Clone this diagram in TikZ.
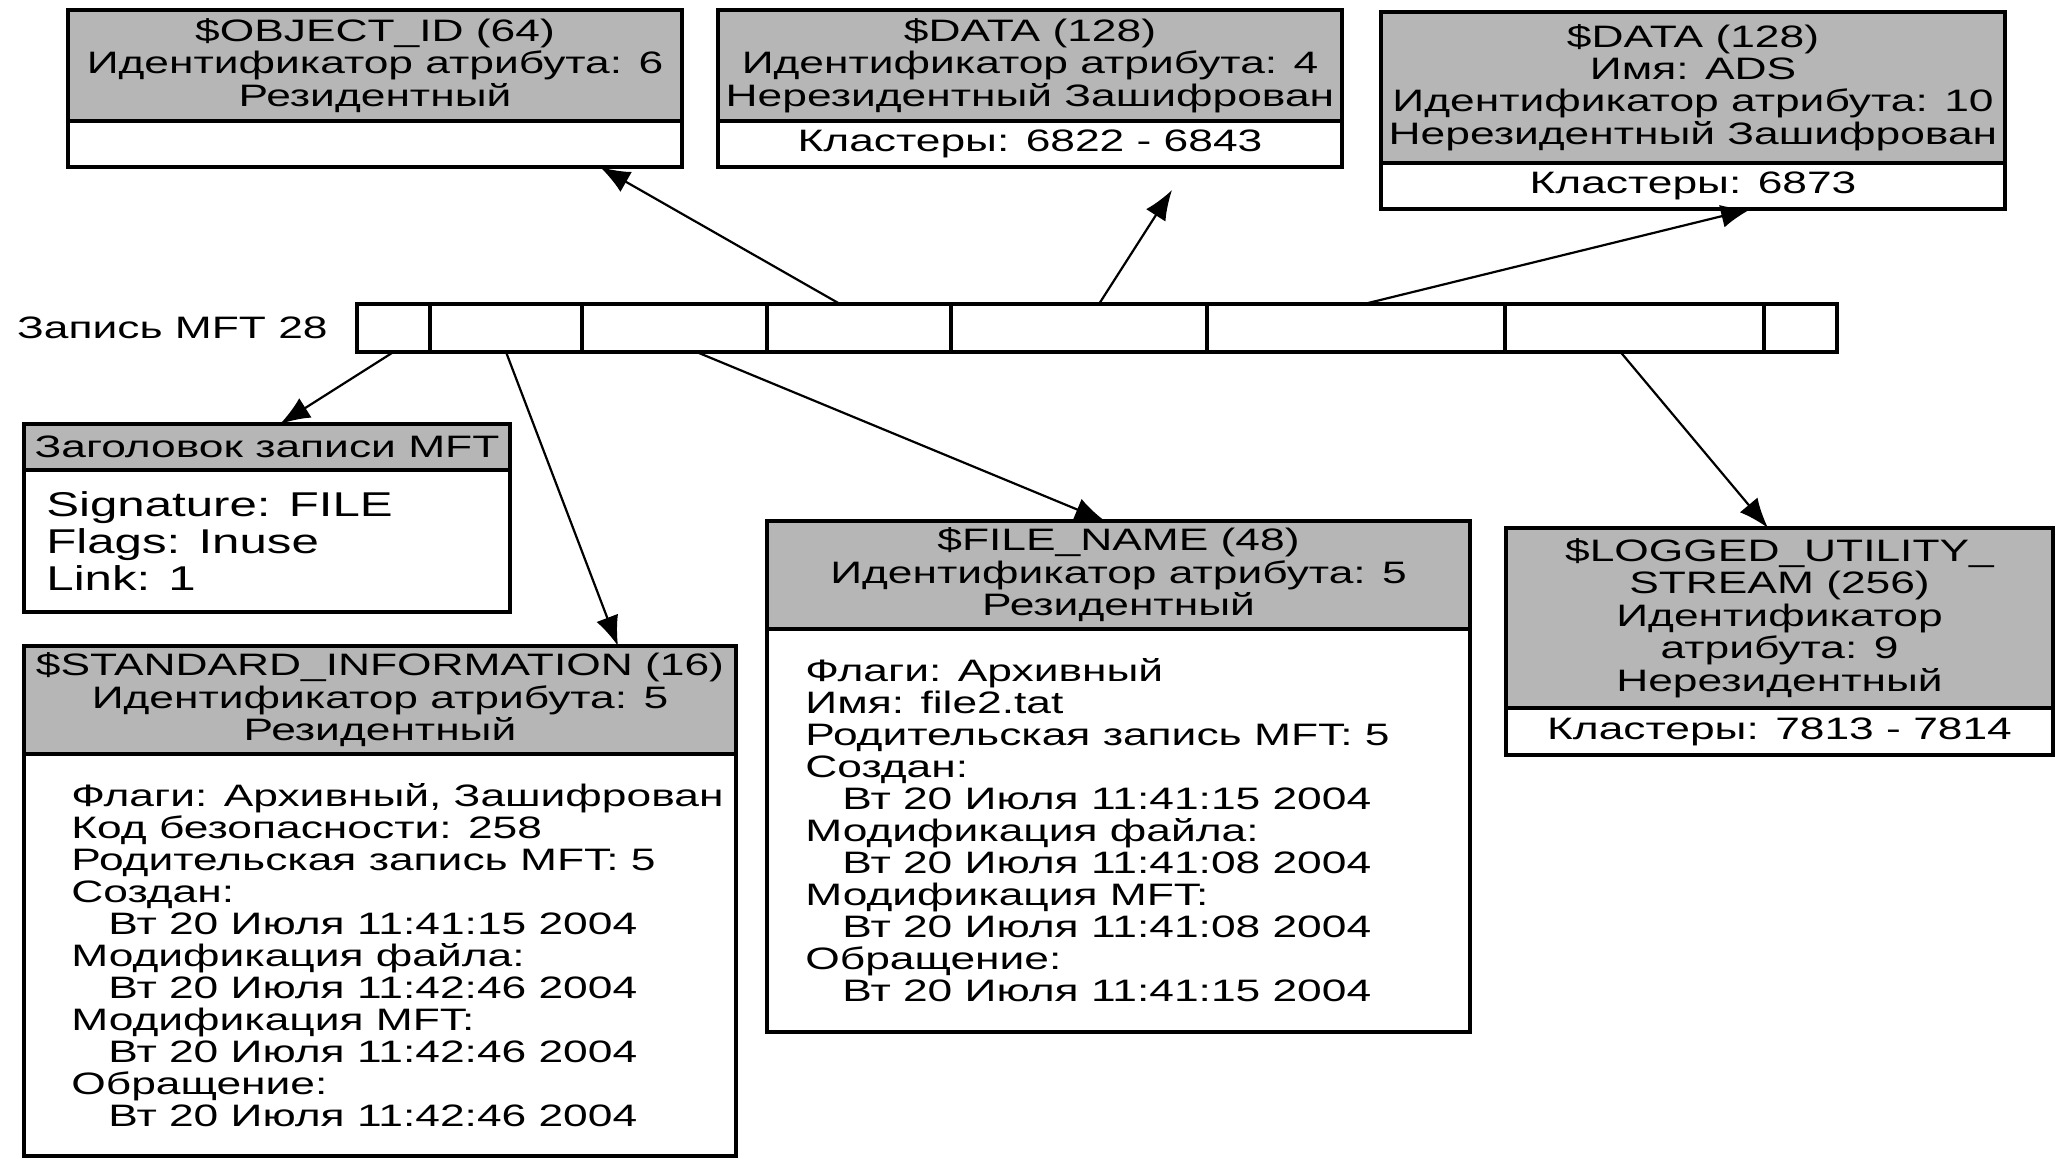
\documentclass[tikz,border=0pt]{standalone}
\usepackage{fontspec}
\setmainfont{Liberation Sans}[FakeStretch=1.43]
\usetikzlibrary{positioning,arrows.meta}

\definecolor{hdrgray}{RGB}{182,182,182}
\newcommand{\dateind}{\hspace*{18.5pt}}

\tikzset{
  attrhdr/.style={draw, line width=1.6pt, fill=hdrgray, inner sep=0pt, outer sep=0pt,
                  anchor=north west, align=center, font=\fontsize{15.5}{16.2}\selectfont},
  attrbody/.style={draw, line width=1.6pt, fill=white, inner sep=0pt, outer sep=0pt,
                   anchor=north west, align=center, font=\fontsize{15.5}{16}\selectfont},
  bodytext/.style={inner sep=0pt, align=left, font=\fontsize{15.5}{16}\selectfont},
  cell/.style={draw, line width=1.8pt, inner sep=0pt, outer sep=0pt, minimum height=24pt},
  ptr/.style={-{Latex[length=15pt,width=11.5pt]}, line width=1.1pt}
}

\begin{document}
\begin{tikzpicture}[x=0.5pt, y=-0.5pt]
    \useasboundingbox (0,0) rectangle (2057,1158);

    % 1. Запись MFT 28: ряд ячеек
    \foreach \i/\l/\r in {1/357/430, 2/430/582, 3/582/767, 4/767/951,
                          5/951/1207, 6/1207/1505, 7/1505/1764, 8/1764/1837} {
        \pgfmathsetmacro{\cw}{(\r-\l)/2}
        \node[cell, minimum width=\cw pt, anchor=west] (c\i) at (\l,328) {};
    }
    \node[left=14.5pt of c1, inner sep=0pt, font=\fontsize{15.5}{16}\selectfont] (reclabel) {Запись MFT 28};

    % 2. Верхний ряд атрибутов
    \node[attrhdr, minimum width=307pt, minimum height=55.5pt] (objhdr) at (68,10)
        {\$OBJECT\_ID (64)\\Идентификатор атрибута: 6\\Резидентный};
    \node[attrbody, minimum width=307pt, minimum height=23pt] (objbody) at (objhdr.south west) {};

    \node[attrhdr, minimum width=312pt, minimum height=55.5pt] (datahdr) at (718,10)
        {\$DATA (128)\\Идентификатор атрибута: 4\\Нерезидентный Зашифрован};
    \node[attrbody, minimum width=312pt, minimum height=23pt] (databody) at (datahdr.south west)
        {Кластеры: 6822 - 6843};

    \node[attrhdr, minimum width=312pt, minimum height=75.5pt] (adshdr) at (1381,12)
        {\$DATA (128)\\Имя: ADS\\Идентификатор атрибута: 10\\Нерезидентный Зашифрован};
    \node[attrbody, minimum width=312pt, minimum height=23pt] (adsbody) at (adshdr.south west)
        {Кластеры: 6873};

    % 3. Заголовок записи MFT
    \node[attrhdr, minimum width=243pt, minimum height=23pt] (mfthdr) at (24,424)
        {Заголовок записи MFT};
    \node[attrbody, minimum width=243pt, minimum height=71pt] (mftbody) at (mfthdr.south west) {};
    \node[bodytext, right=11pt of mftbody.west, font=\fontsize{17.2}{18.3}\selectfont] (mfttext)
        {Signature: FILE\\Flags: Inuse\\Link: 1};

    % 4. $STANDARD_INFORMATION
    \node[attrhdr, minimum width=356pt, minimum height=54pt] (sihdr) at (24,646)
        {\$STANDARD\_INFORMATION (16)\\Идентификатор атрибута: 5\\Резидентный};
    \node[attrbody, minimum width=356pt, minimum height=201pt] (sibody) at (sihdr.south west) {};
    \node[bodytext, right=23.5pt of sibody.west] (sitext)
        {Флаги: Архивный, Зашифрован\\
         Код безопасности: 258\\
         Родительская запись MFT: 5\\
         Создан:\\
         \dateind Вт 20 Июля 11:41:15 2004\\
         Модификация файла:\\
         \dateind Вт 20 Июля 11:42:46 2004\\
         Модификация MFT:\\
         \dateind Вт 20 Июля 11:42:46 2004\\
         Обращение:\\
         \dateind Вт 20 Июля 11:42:46 2004};

    % 5. $FILE_NAME
    \node[attrhdr, minimum width=351.5pt, minimum height=54pt] (fnhdr) at (767,521)
        {\$FILE\_NAME (48)\\Идентификатор атрибута: 5\\Резидентный};
    \node[attrbody, minimum width=351.5pt, minimum height=201.5pt] (fnbody) at (fnhdr.south west) {};
    \node[bodytext, right=19pt of fnbody.west] (fntext)
        {Флаги: Архивный\\
         Имя: file2.tat\\
         Родительская запись MFT: 5\\
         Создан:\\
         \dateind Вт 20 Июля 11:41:15 2004\\
         Модификация файла:\\
         \dateind Вт 20 Июля 11:41:08 2004\\
         Модификация MFT:\\
         \dateind Вт 20 Июля 11:41:08 2004\\
         Обращение:\\
         \dateind Вт 20 Июля 11:41:15 2004};

    % 6. $LOGGED_UTILITY_STREAM
    \node[attrhdr, minimum width=273.5pt, minimum height=90pt] (luhdr) at (1506,528)
        {\$LOGGED\_UTILITY\_\\STREAM (256)\\Идентификатор\\атрибута: 9\\Нерезидентный};
    \node[attrbody, minimum width=273.5pt, minimum height=23.5pt] (lubody) at (luhdr.south west)
        {Кластеры: 7813 - 7814};

    % 7. Стрелки от ячеек записи к атрибутам
    \coordinate (tipdata) at (1172,190);
    \draw[ptr] (c1.south) -- (280,0 |- mfthdr.north);
    \draw[ptr] (c2.south) -- (618,0 |- sihdr.north);
    \draw[ptr] ([xshift=11pt]c3.south) -- (1105,0 |- fnhdr.north);
    \draw[ptr] ([xshift=-9.5pt]c4.north) -- (600,0 |- objbody.south);
    \draw[ptr] ([xshift=10pt]c5.north) -- (tipdata);
    \draw[ptr] ([xshift=4pt]c6.north) -- (1751,0 |- adsbody.south);
    \draw[ptr] ([xshift=-7pt]c7.south) -- (1768,0 |- luhdr.north);
\end{tikzpicture}
\end{document}
